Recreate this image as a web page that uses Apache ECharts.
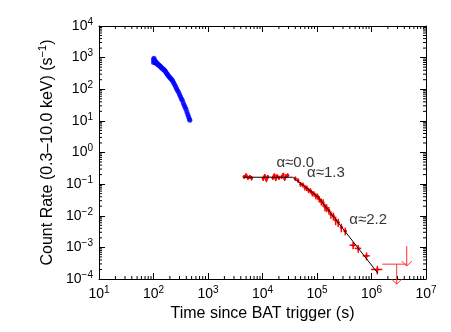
<!DOCTYPE html>
<html>
<head>
<meta charset="utf-8">
<script src="https://cdn.jsdelivr.net/npm/echarts@6/dist/echarts.min.js"></script>
<style>
html, body { margin: 0; padding: 0; background: #fff; }
#lc { width: 451px; height: 332px; }
</style>
</head>
<body>
<div id="lc"></div>
<script>
// WT mode (blue)
var blueT = [100, 100, 102, 103, 105, 107, 109, 111, 113, 116, 119, 122, 125, 128, 131, 134, 138, 142, 146, 150,
    155, 160, 165, 170, 176, 182, 188, 195, 202, 210, 218, 226, 235, 245, 255, 265, 276, 288, 300, 312,
    325, 338, 352, 366, 380, 395, 410, 425, 440, 455, 465];
var blueR = [880, 700, 950, 780, 820, 690, 760, 700, 650, 680, 620, 600, 580, 560, 540, 520, 490, 480, 450, 430,
    420, 390, 370, 340, 310, 290, 265, 245, 232, 212, 198, 178, 158, 138, 120, 104, 92, 80, 68, 59,
    50, 45, 37, 31, 27, 23.5, 19, 16, 13.5, 11.5, 10.5];

// PC mode (red): time, rate, time half-width, rate error
var redT = [4600, 5000, 5400, 5900, 6300, 10300, 11000, 11800, 12500, 15500, 16500, 17500, 18500, 20000,
    22500, 24000, 25500, 27000, 29000,
    40000, 45000, 50000, 55000, 60000, 65000, 70000, 76000, 82000, 88000, 95000, 102000,
    110000, 120000, 130000, 140000, 150000, 165000, 180000, 200000, 220000, 245000, 280000,
    330000, 460000, 570000, 810000, 1280000];
var redR = [0.17, 0.19, 0.16, 0.17, 0.155, 0.15, 0.18, 0.14, 0.17, 0.16, 0.19, 0.15, 0.18, 0.16,
    0.17, 0.2, 0.15, 0.18, 0.19,
    0.15, 0.13, 0.10, 0.095, 0.078, 0.076, 0.064, 0.062, 0.051, 0.05, 0.042, 0.041,
    0.034, 0.028, 0.026, 0.019, 0.018, 0.015, 0.011, 0.0098, 0.0072, 0.0062, 0.0043,
    0.0033, 0.00117, 0.00093, 0.00054, 0.0002];
var redTErr = [250, 250, 250, 300, 300, 400, 400, 400, 400, 500, 500, 500, 500, 600,
    600, 600, 600, 700, 700,
    1500, 1500, 1800, 1800, 2000, 2000, 2500, 2500, 3000, 3000, 3500, 3500,
    4000, 4500, 5000, 5500, 6000, 7000, 8000, 9000, 10000, 12000, 15000,
    25000, 65000, 80000, 120000, 300000];
var redRErr = [0.025, 0.03, 0.025, 0.025, 0.025, 0.025, 0.03, 0.025, 0.025, 0.025, 0.03, 0.025, 0.025, 0.025,
    0.025, 0.03, 0.025, 0.025, 0.03,
    0.025, 0.022, 0.018, 0.017, 0.015, 0.015, 0.012, 0.012, 0.01, 0.01, 0.009, 0.009,
    0.008, 0.007, 0.007, 0.005, 0.005, 0.004, 0.003, 0.0028, 0.0022, 0.0018, 0.0013,
    0.0009, 0.0003, 0.00025, 0.00015, 0.00006];

// broken power-law fit
var fitT = [4500, 36000, 105000, 1300000];
var fitR = [0.165, 0.165, 0.039, 0.000154];

// upper limits
var ulT = [2900000, 4430000];
var ulR = [0.000295, 0.0011];
var ulTLo = [1580000, 4430000];
var ulTHi = [4430000, 4430000];

// slope labels
var slopeText = ['α≈0.0', 'α≈1.3', 'α≈2.2'];
var slopeT = [40000, 146000, 870000];
var slopeR = [0.46, 0.22, 0.0072];

var xMin = 10, xMax = 1e7, yMin = 1e-4, yMax = 1e4;

function pow10Label(v) {
    var e = Math.round(Math.log10(v));
    var s = e < 0 ? '−' + (-e) : '' + e;
    return '{b|10}{e|' + s + '}';
}
var tickRich = {
    b: { fontSize: 14, fontFamily: 'Liberation Sans', color: '#000' },
    e: { fontSize: 10, fontFamily: 'Liberation Sans', color: '#000', padding: [0, 0, 8, 0] }
};

// minor log ticks 2..9
var xMinor = [], yMinor = [];
for (var d = 1; d < 7; d++) for (var k = 2; k < 10; k++) xMinor.push([k * Math.pow(10, d)]);
for (var d2 = -4; d2 < 4; d2++) for (var k2 = 2; k2 < 10; k2++) yMinor.push([k2 * Math.pow(10, d2)]);

function logAxis(pos, min, max, showLabel) {
    return {
        type: 'log', logBase: 10, position: pos, min: min, max: max, interval: 1,
        axisLine: { show: true, lineStyle: { color: '#000', width: 1 } },
        axisTick: { show: true, inside: true, length: 6, lineStyle: { color: '#000' } },
        axisLabel: { show: showLabel, formatter: pow10Label, rich: tickRich, margin: 6 },
        splitLine: { show: false },
        minorTick: { show: false }
    };
}

var blueData = blueT.map(function (t, i) { return [t, blueR[i]]; });
var redData = redT.map(function (t, i) { return [t, redR[i], redTErr[i], redRErr[i]]; });
var fitData = fitT.map(function (t, i) { return [t, fitR[i]]; });
var ulData = ulT.map(function (t, i) { return [t, ulR[i], ulTLo[i], ulTHi[i]]; });
var slopeData = slopeT.map(function (t, i) { return { name: slopeText[i], value: [t, slopeR[i]] }; });

var myChart = echarts.init(document.getElementById('lc'));

var xa = logAxis('bottom', xMin, xMax, true);
xa.name = 'Time since BAT trigger (s)';
xa.nameLocation = 'middle';
xa.nameGap = 26;
xa.nameTextStyle = { fontSize: 16, fontFamily: 'Liberation Sans', color: '#000' };
var ya = logAxis('left', yMin, yMax, true);
ya.name = '{a|Count Rate (0.3–10.0 keV) (s}{s|−1}{a|)}';
ya.nameLocation = 'middle';
ya.nameGap = 40;
ya.nameTextStyle = {
    rich: {
        a: { fontSize: 16, fontFamily: 'Liberation Sans', color: '#000' },
        s: { fontSize: 11, fontFamily: 'Liberation Sans', color: '#000', padding: [0, 0, 8, 0] }
    }
};

var option = {
    animation: false,
    backgroundColor: '#fff',
    grid: { left: 99, right: 25, top: 26, bottom: 53 },
    xAxis: [xa, logAxis('top', xMin, xMax, false)],
    yAxis: [ya, logAxis('right', yMin, yMax, false)],
    series: [
        {
            // minor ticks on x
            type: 'custom', data: xMinor, silent: true, clip: false,
            encode: { x: 0 },
            renderItem: function (params, api) {
                var b = api.coord([api.value(0), yMin]);
                var t = api.coord([api.value(0), yMax]);
                return { type: 'group', children: [
                    { type: 'line', shape: { x1: b[0], y1: b[1], x2: b[0], y2: b[1] - 3 }, style: { stroke: '#000', lineWidth: 1 } },
                    { type: 'line', shape: { x1: t[0], y1: t[1], x2: t[0], y2: t[1] + 3 }, style: { stroke: '#000', lineWidth: 1 } }
                ] };
            }
        },
        {
            // minor ticks on y
            type: 'custom', data: yMinor.map(function (v) { return [xMin, v[0]]; }), silent: true, clip: false,
            renderItem: function (params, api) {
                var l = api.coord([xMin, api.value(1)]);
                var r = api.coord([xMax, api.value(1)]);
                return { type: 'group', children: [
                    { type: 'line', shape: { x1: l[0], y1: l[1], x2: l[0] + 3, y2: l[1] }, style: { stroke: '#000', lineWidth: 1 } },
                    { type: 'line', shape: { x1: r[0], y1: r[1], x2: r[0] - 3, y2: r[1] }, style: { stroke: '#000', lineWidth: 1 } }
                ] };
            }
        },
        {
            type: 'scatter', data: blueData, symbol: 'circle', symbolSize: 5,
            itemStyle: { color: '#0000ff' }
        },
        {
            type: 'custom', data: redData, clip: false,
            encode: { x: 0, y: 1 },
            renderItem: function (params, api) {
                var t = api.value(0), r = api.value(1), te = api.value(2), re = api.value(3);
                var c = api.coord([t, r]);
                var xl = api.coord([t - te, r]), xr = api.coord([t + te, r]);
                var yl = api.coord([t, Math.max(r - re, yMin)]), yh = api.coord([t, r + re]);
                var st = { stroke: '#ff0000', lineWidth: 1.5, fill: null };
                return { type: 'group', children: [
                    { type: 'line', shape: { x1: xl[0], y1: c[1], x2: xr[0], y2: c[1] }, style: st },
                    { type: 'line', shape: { x1: c[0], y1: yl[1], x2: c[0], y2: yh[1] }, style: st },
                    { type: 'circle', shape: { cx: c[0], cy: c[1], r: 1.5 }, style: { fill: '#ff0000' } }
                ] };
            }
        },
        {
            type: 'line', data: fitData, symbol: 'none',
            lineStyle: { color: '#000', width: 1 }
        },
        {
            type: 'custom', data: ulData, clip: false,
            encode: { x: 0, y: 1 },
            renderItem: function (params, api) {
                var c = api.coord([api.value(0), api.value(1)]);
                var lo = api.coord([api.value(2), api.value(1)]);
                var hi = api.coord([api.value(3), api.value(1)]);
                var st = { stroke: '#ff3030', lineWidth: 1, fill: null };
                var tip = c[1] + 20;
                return { type: 'group', children: [
                    { type: 'line', shape: { x1: lo[0], y1: c[1], x2: hi[0], y2: c[1] }, style: st },
                    { type: 'line', shape: { x1: c[0], y1: c[1], x2: c[0], y2: tip }, style: st },
                    { type: 'polyline', shape: { points: [[c[0] - 5, tip - 5], [c[0], tip], [c[0] + 5, tip - 5]] }, style: { stroke: '#ff3030', lineWidth: 1, fill: null } }
                ] };
            }
        },
        {
            type: 'scatter', data: slopeData, symbolSize: 0, silent: true,
            label: {
                show: true, position: 'inside', formatter: '{b}',
                fontSize: 15, fontFamily: 'Liberation Sans', color: '#000',
                textBorderWidth: 0
            }
        }
    ]
};
myChart.setOption(option);
</script>
</body>
</html>
